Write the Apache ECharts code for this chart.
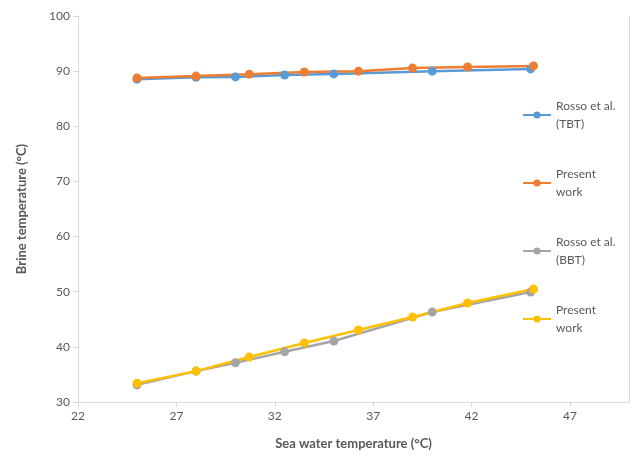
<!DOCTYPE html>
<html>
<head>
<meta charset="utf-8">
<script src="https://cdn.jsdelivr.net/npm/echarts@6/dist/echarts.min.js"></script>
<style>
html,body{margin:0;padding:0;background:#fff;}
#chart{width:634px;height:460px;}
</style>
</head>
<body>
<div id="chart"></div>
<script>
// Data
const tbtX = [25, 28, 30, 32.5, 35, 40, 45];
const tbtY = [88.55, 88.9, 88.95, 89.3, 89.5, 90.0, 90.4];

const presentTopX = [25, 28, 30.7, 33.5, 36.25, 39, 41.8, 45.15];
const presentTopY = [88.75, 89.1, 89.45, 89.85, 90.0, 90.55, 90.75, 90.95];

const bbtX = [25, 28, 30, 32.5, 35, 40, 45];
const bbtY = [33.1, 35.6, 37.1, 39.1, 41.05, 46.3, 49.95];

const presentBotX = [25, 28, 30.7, 33.5, 36.25, 39, 41.8, 45.15];
const presentBotY = [33.4, 35.6, 38.15, 40.7, 43.05, 45.4, 47.95, 50.5];

const seriesNames = ['Rosso et al.\n(TBT)', 'Present\nwork', 'Rosso et al.\n(BBT)', 'Present\nwork '];
const seriesColors = ['#5B9BD5', '#ED7D31', '#A5A5A5', '#FFC000'];

const xTitle = 'Sea water temperature (\u00B0C)';
const yTitle = 'Brine temperature (\u00B0C)';

function pairs(xs, ys) { return xs.map((x, i) => [x, ys[i]]); }

const FONT = 'Lato, "Open Sans", sans-serif';
const labelColor = '#595959';
const axisColor = '#D9D9D9';

const dataSets = [pairs(tbtX, tbtY), pairs(presentTopX, presentTopY), pairs(bbtX, bbtY), pairs(presentBotX, presentBotY)];

const chart = echarts.init(document.getElementById('chart'), null, {renderer: 'canvas'});
chart.setOption({
  animation: false,
  backgroundColor: '#ffffff',
  textStyle: {fontFamily: FONT},
  grid: {left: 78, right: 5, top: 16, bottom: 58, containLabel: false},
  legend: {
    orient: 'vertical',
    left: 517,
    top: 83,
    itemWidth: 28,
    itemHeight: 9,
    itemGap: 14,
    data: seriesNames,
    textStyle: {color: labelColor, fontSize: 12, fontFamily: FONT, lineHeight: 18, padding: [18, 0, 0, 0]}
  },
  xAxis: {
    type: 'value',
    min: 22, max: 50, interval: 5,
    name: xTitle,
    nameLocation: 'middle',
    nameGap: 35,
    nameTextStyle: {color: labelColor, fontSize: 13, fontWeight: 'bold', fontFamily: FONT},
    axisLine: {show: true, lineStyle: {color: axisColor, width: 1}},
    axisTick: {show: true, length: 5, lineStyle: {color: axisColor}},
    axisLabel: {color: labelColor, fontSize: 12, margin: 8, showMaxLabel: false,
      formatter: v => ((v - 22) % 5 === 0 ? String(v) : '')},
    splitLine: {show: false}
  },
  yAxis: [{
    type: 'value',
    min: 30, max: 100, interval: 10,
    name: yTitle,
    nameLocation: 'middle',
    nameGap: 50,
    nameTextStyle: {color: labelColor, fontSize: 13, fontWeight: 'bold', fontFamily: FONT},
    axisLine: {show: true, lineStyle: {color: axisColor, width: 1}},
    axisTick: {show: true, length: 5, lineStyle: {color: axisColor}},
    axisLabel: {color: labelColor, fontSize: 12, margin: 8},
    splitLine: {show: false}
  }, {
    type: 'value',
    position: 'right',
    min: 30, max: 100, interval: 10,
    axisLine: {show: true, lineStyle: {color: axisColor, width: 1}},
    axisTick: {show: false},
    axisLabel: {show: false},
    splitLine: {show: false}
  }],
  series: dataSets.map((d, i) => ({
    name: seriesNames[i],
    type: 'line',
    data: d,
    symbol: 'circle',
    symbolSize: 9,
    color: seriesColors[i],
    lineStyle: {width: 2.5, color: seriesColors[i]},
    itemStyle: {color: seriesColors[i]}
  }))
});
</script>
</body>
</html>
